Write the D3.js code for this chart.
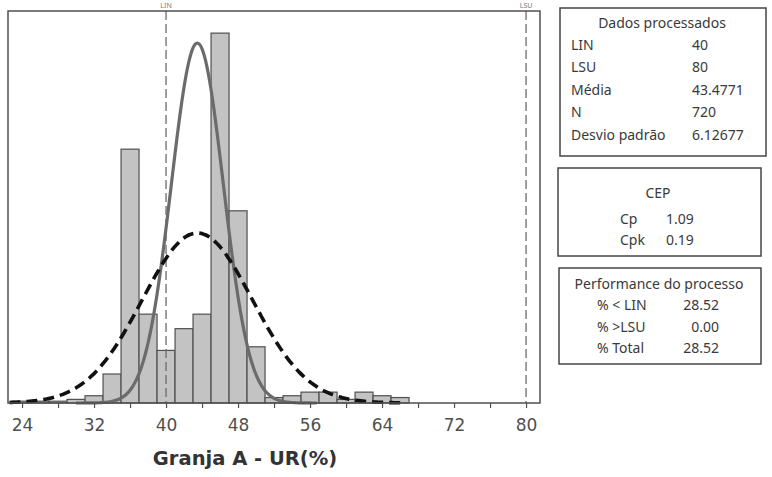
<!DOCTYPE html>
<html lang="pt">
<head>
<meta charset="utf-8">
<title>Granja A - UR(%)</title>
<style>
  body { margin: 0; background: #fff; }
  svg text { font-family: "Noto Sans", "Open Sans", sans-serif; fill: #3a3a3a; }
</style>
<script src="https://cdn.jsdelivr.net/npm/d3@7"></script>
</head>
<body>
<script>
// histogram bins (centre of each 2-unit bin) and counts
var binCenters = [24, 26, 28, 30, 32, 34, 36, 38, 40, 42, 44, 46, 48, 50, 52, 54, 56, 58, 60, 62, 64, 66];
var binCounts  = [ 1,  1,  1,  2,  4, 16, 140, 49, 29, 41, 49, 204, 106, 31, 3, 4, 6, 6, 2, 6, 4, 3];
var binWidth = 2;

var xTicks = [24, 28, 32, 36, 40, 44, 48, 52, 56, 60, 64, 68, 72, 76, 80];
var xLabels = [24, 32, 40, 48, 56, 64, 72, 80];

var specLimits = [{ name: "LIN", value: 40 }, { name: "LSU", value: 80 }];

// fitted curves: overall (dashed) and within (solid)
var N = 720;
var overallFit = { mean: 43.4771, sd: 6.12677 };
var withinFit = { mean: 43.4771, sd: 2.89 };

var statsRows = [["LIN", "40"], ["LSU", "80"], ["Média", "43.4771"], ["N", "720"], ["Desvio padrão", "6.12677"]];
var cepRows = [["Cp", "1.09"], ["Cpk", "0.19"]];
var perfRows = [["% < LIN", "28.52"], ["% >LSU", "0.00"], ["% Total", "28.52"]];

var w = 772, h = 477;
var svg = d3.select("body").append("svg").attr("width", w).attr("height", h);

var x = d3.scaleLinear().domain([22.44, 81.55]).range([8, 540]);
var y = d3.scaleLinear().domain([0, 216.2]).range([403, 11]);

// bars
svg.selectAll("rect.bar")
  .data(binCenters)
  .enter()
  .append("rect")
  .attr("class", "bar")
  .attr("x", (d) => x(d - binWidth / 2))
  .attr("width", (d) => x(d + binWidth / 2) - x(d - binWidth / 2))
  .attr("y", (d, i) => y(binCounts[i]))
  .attr("height", (d, i) => y(0) - y(binCounts[i]))
  .attr("fill", "#c3c3c3")
  .attr("stroke", "#505050")
  .attr("stroke-width", 1.2);

// spec limit lines
svg.selectAll("line.spec")
  .data(specLimits)
  .enter()
  .append("line")
  .attr("x1", d => x(d.value)).attr("x2", d => x(d.value))
  .attr("y1", y.range()[1]).attr("y2", y(0))
  .attr("stroke", "#6a6a6a")
  .attr("stroke-width", 1.3)
  .attr("stroke-dasharray", "9,4");
svg.selectAll("text.spec")
  .data(specLimits)
  .enter()
  .append("text")
  .attr("x", d => x(d.value))
  .attr("y", 8)
  .attr("text-anchor", "middle")
  .attr("font-size", "7px")
  .style("fill", "#777")
  .text(d => d.name);

function density(fit, v) {
  return N * binWidth / (fit.sd * Math.sqrt(2 * Math.PI)) *
    Math.exp(-Math.pow(v - fit.mean, 2) / (2 * fit.sd * fit.sd));
}
var line = d3.line().x(d => x(d[0])).y(d => y(d[1])).curve(d3.curveBasis);

var withinPts = d3.range(30, 57, 0.25).map(v => [v, density(withinFit, v)]);
svg.append("path")
  .attr("d", line(withinPts))
  .attr("fill", "none")
  .attr("stroke", "#6b6b6b")
  .attr("stroke-width", 3.2);

var overallPts = d3.range(22.6, 66.5, 0.25).map(v => [v, density(overallFit, v)]);
svg.append("path")
  .attr("d", line(overallPts))
  .attr("fill", "none")
  .attr("stroke", "#111")
  .attr("stroke-width", 3.6)
  .attr("stroke-dasharray", "11,6");

// frame
svg.append("rect")
  .attr("x", x.range()[0]).attr("y", y.range()[1])
  .attr("width", x.range()[1] - x.range()[0])
  .attr("height", y(0) - y.range()[1])
  .attr("fill", "none")
  .attr("stroke", "#505050")
  .attr("stroke-width", 1.5);

// x axis
var xAxis = d3.axisBottom(x)
  .tickValues(xTicks)
  .tickSize(5)
  .tickSizeOuter(0)
  .tickFormat(d => xLabels.indexOf(d) >= 0 ? d : "");
var gx = svg.append("g")
  .attr("transform", "translate(0," + y(0) + ")")
  .call(xAxis);
gx.select(".domain").remove();
gx.selectAll("line").attr("stroke", "#505050").attr("stroke-width", 1.2);
gx.selectAll("text")
  .attr("dy", "1.2em")
  .attr("font-size", "17px")
  .style("font-family", "'DejaVu Sans', sans-serif")
  .style("fill", "#505050");

svg.append("text")
  .attr("x", 245).attr("y", 465)
  .attr("text-anchor", "middle")
  .attr("font-size", "19.5px")
  .attr("font-weight", "bold")
  .style("font-family", "'DejaVu Sans', sans-serif")
  .style("fill", "#333")
  .text("Granja A - UR(%)");

// side boxes
function box(x0, y0, bw, bh) {
  svg.append("rect")
    .attr("x", x0).attr("y", y0).attr("width", bw).attr("height", bh)
    .attr("fill", "#fff").attr("stroke", "#444").attr("stroke-width", 1.5);
}
var fs = "14px";

box(560, 8, 206, 148);
svg.append("text").attr("x", 662).attr("y", 28).attr("text-anchor", "middle")
  .attr("font-size", fs).text("Dados processados");
svg.selectAll("text.stat")
  .data(statsRows)
  .enter()
  .append("g")
  .each(function (d, i) {
    var g = d3.select(this);
    var yy = 50 + i * 22.4;
    g.append("text").attr("x", 571).attr("y", yy).attr("font-size", fs).text(d[0]);
    g.append("text").attr("x", 692).attr("y", yy).attr("font-size", fs).text(d[1]);
  });

box(558, 168, 203, 88);
svg.append("text").attr("x", 658).attr("y", 198).attr("text-anchor", "middle")
  .attr("font-size", fs).text("CEP");
cepRows.forEach(function (d, i) {
  var yy = 224 + i * 21;
  svg.append("text").attr("x", 620).attr("y", yy).attr("font-size", fs).text(d[0]);
  svg.append("text").attr("x", 666).attr("y", yy).attr("font-size", fs).text(d[1]);
});

box(559, 268, 202, 96);
svg.append("text").attr("x", 659).attr("y", 289).attr("text-anchor", "middle")
  .attr("font-size", fs).text("Performance do processo");
perfRows.forEach(function (d, i) {
  var yy = 310 + i * 21.5;
  svg.append("text").attr("x", 597).attr("y", yy).attr("font-size", fs).text(d[0]);
  svg.append("text").attr("x", 719).attr("y", yy).attr("text-anchor", "end")
    .attr("font-size", fs).text(d[1]);
});
</script>
</body>
</html>
